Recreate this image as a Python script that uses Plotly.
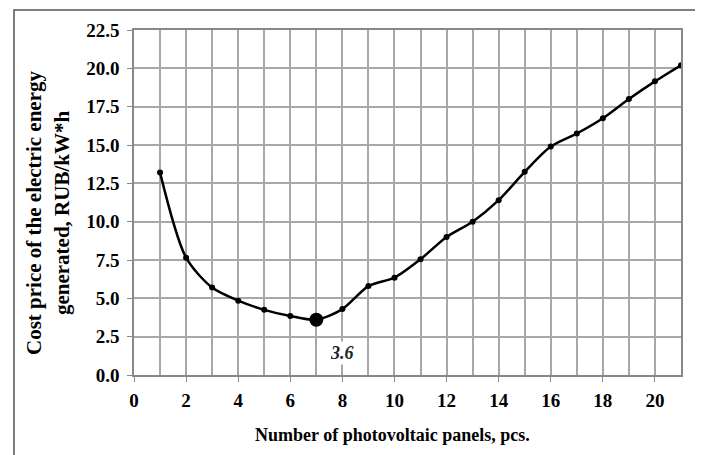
import plotly.graph_objects as go

panels = list(range(1, 22))
cost = [13.2, 7.65, 5.7, 4.85, 4.25, 3.85, 3.6, 4.3, 5.8, 6.35, 7.55, 9.0, 10.0,
        11.4, 13.25, 14.9, 15.75, 16.75, 18.0, 19.15, 20.2]
min_x = 7
min_y = 3.6
min_label = "3.6"

font_family = "Liberation Serif, Times New Roman, serif"
grid_col = "#a8a8a8"
axis_col = "#888888"

fig = go.Figure()
fig.add_trace(go.Scatter(
    x=panels, y=cost, mode="lines+markers",
    line=dict(color="black", width=2.5, shape="spline", smoothing=0.8),
    marker=dict(color="black", size=6),
    showlegend=False, hoverinfo="x+y",
))
fig.add_trace(go.Scatter(
    x=[min_x], y=[min_y], mode="markers",
    marker=dict(color="black", size=14),
    showlegend=False,
))

fig.add_annotation(x=min_x + 1.0, y=min_y - 2.15, text="<b><i>" + min_label + "</i></b>",
                   showarrow=False, bgcolor="white", borderpad=1,
                   font=dict(family=font_family, size=18, color="#222222"))

# axis titles as annotations so they can sit where the original has them
fig.add_annotation(xref="paper", yref="paper", x=0.472, y=-0.175,
                   xanchor="center", yanchor="middle",
                   text="<b>Number of photovoltaic panels, pcs.</b>", showarrow=False,
                   font=dict(family=font_family, size=18, color="black"))
fig.add_annotation(xref="paper", yref="paper", x=-0.157, y=0.47, textangle=-90,
                   xanchor="center", yanchor="middle",
                   text="<b>Cost price of the electric energy<br>generated, RUB/kW*h</b>",
                   showarrow=False,
                   font=dict(family=font_family, size=21, color="black"))

# outer frame around the whole chart
fig.add_shape(type="rect", xref="paper", yref="paper",
              x0=-0.2194, x1=1.0293, y0=-0.35, y1=1.058,
              line=dict(color="#555555", width=1.5), layer="below")

fig.update_xaxes(
    range=[0, 21], dtick=2, tick0=0,
    showgrid=True, gridcolor=grid_col, gridwidth=1.5,
    minor=dict(dtick=1, showgrid=True, gridcolor=grid_col, gridwidth=1.5),
    ticks="outside", ticklen=5, tickcolor=axis_col,
    showline=True, linecolor=axis_col, linewidth=1.5, mirror=True,
    zeroline=False, ticklabelstandoff=2,
    tickfont=dict(family=font_family, size=19, color="black"),
)
fig.update_yaxes(
    range=[0, 22.5], dtick=2.5, tick0=0, tickformat=".1f",
    showgrid=True, gridcolor=grid_col, gridwidth=1.5,
    ticks="outside", ticklen=5, tickcolor=axis_col,
    showline=True, linecolor=axis_col, linewidth=1.5, mirror=True,
    zeroline=False, ticklabelstandoff=4,
    tickfont=dict(family=font_family, size=19, color="black"),
)

# the page body adds an 8px offset, so margins are shifted to compensate
fig.update_layout(
    width=703, height=455,
    margin=dict(l=126, r=30, t=22, b=88, autoexpand=False),
    plot_bgcolor="white", paper_bgcolor="white",
    font=dict(family=font_family, color="black"),
)
fig.update_xaxes(tickprefix="<b>", ticksuffix="</b>")
fig.update_yaxes(tickprefix="<b>", ticksuffix="</b>")

fig.write_html("out.html")
